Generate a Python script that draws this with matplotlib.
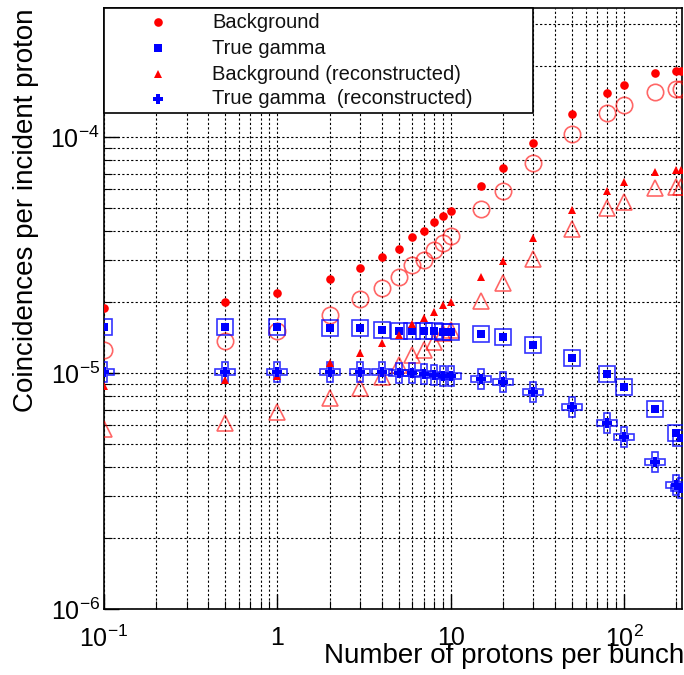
import matplotlib
matplotlib.use("Agg")
import matplotlib.pyplot as plt
from matplotlib.ticker import LogLocator, FixedLocator, FixedFormatter, NullFormatter
from matplotlib.patches import Rectangle
from matplotlib.lines import Line2D

plt.rcParams['font.family'] = ['Liberation Sans', 'DejaVu Sans']
plt.rcParams['mathtext.fontset'] = 'custom'
plt.rcParams['mathtext.rm'] = 'Liberation Sans'
plt.rcParams['mathtext.it'] = 'Liberation Sans'
plt.rcParams['mathtext.bf'] = 'Liberation Sans'

# ---------------- data ----------------
protons = [0.1, 0.5, 1, 2, 3, 4, 5, 6, 7, 8, 9, 10, 15, 20, 30, 50, 80, 100, 150, 200, 212]

background = [1.88e-5, 2.0e-5, 2.18e-5, 2.50e-5, 2.79e-5, 3.10e-5, 3.35e-5, 3.77e-5, 4.0e-5,
              4.36e-5, 4.63e-5, 4.86e-5, 6.2e-5, 7.39e-5, 9.43e-5, 1.25e-4, 1.54e-4, 1.66e-4,
              1.87e-4, 1.90e-4, 1.90e-4]
background_open = [1.25e-5, 1.37e-5, 1.51e-5, 1.76e-5, 2.06e-5, 2.29e-5, 2.55e-5, 2.87e-5, 3.01e-5,
                   3.32e-5, 3.56e-5, 3.80e-5, 4.95e-5, 5.9e-5, 7.76e-5, 1.03e-4, 1.26e-4, 1.37e-4,
                   1.55e-4, 1.60e-4, 1.60e-4]

true_gamma = [1.57e-5, 1.57e-5, 1.57e-5, 1.55e-5, 1.55e-5, 1.52e-5, 1.51e-5, 1.51e-5, 1.51e-5,
              1.51e-5, 1.49e-5, 1.49e-5, 1.46e-5, 1.42e-5, 1.31e-5, 1.16e-5, 9.9e-6, 8.73e-6,
              7.04e-6, 5.57e-6, 5.30e-6]
true_gamma_open = true_gamma

bkg_reco = [8.81e-6, 9.34e-6, 9.71e-6, 1.10e-5, 1.22e-5, 1.34e-5, 1.45e-5, 1.61e-5, 1.71e-5,
            1.81e-5, 1.94e-5, 2.0e-5, 2.55e-5, 2.98e-5, 3.73e-5, 4.91e-5, 5.9e-5, 6.45e-5,
            7.11e-5, 7.25e-5, 7.25e-5]
bkg_reco_open = [5.79e-6, 6.14e-6, 6.83e-6, 7.83e-6, 8.64e-6, 9.62e-6, 1.08e-5, 1.19e-5, 1.25e-5,
                 1.35e-5, 1.48e-5, 1.52e-5, 2.02e-5, 2.41e-5, 3.04e-5, 4.07e-5, 5.0e-5, 5.3e-5,
                 6.08e-5, 6.14e-5, 6.14e-5]

tg_reco = [1.01e-5, 1.01e-5, 1.01e-5, 1.01e-5, 1.01e-5, 1.01e-5, 1.0e-5, 1.0e-5, 9.9e-6,
           9.8e-6, 9.71e-6, 9.71e-6, 9.43e-6, 9.16e-6, 8.31e-6, 7.18e-6, 6.14e-6, 5.36e-6,
           4.20e-6, 3.35e-6, 3.26e-6]
tg_reco_open = tg_reco

legend_labels = ["Background", "True gamma", "Background (reconstructed)", "True gamma  (reconstructed)"]
xtick_vals = [0.1, 1, 10, 100]
xtick_labels = [r"$\mathregular{10^{-1}}$", "1", "10", r"$\mathregular{10^{2}}$"]
ytick_vals = [1e-6, 1e-5, 1e-4]
ytick_labels = [r"$\mathregular{10^{-6}}$", r"$\mathregular{10^{-5}}$", r"$\mathregular{10^{-4}}$"]

# ---------------- figure ----------------
W, H = 684, 675
fig = plt.figure(figsize=(W / 100, H / 100), dpi=100)
L, R, T, B = 104, 682, 8, 609
ax = fig.add_axes([L / W, 1 - B / H, (R - L) / W, (B - T) / H])
ax.set_xscale('log')
ax.set_yscale('log')
ax.set_xlim(0.1, 216)
ax.set_ylim(1e-6, 3.52e-4)

red = '#ff0000'
blue = '#0000ff'
red_open = (1.0, 0.0, 0.0, 0.6)
blue_open = (0.0, 0.0, 1.0, 0.8)
fs_small = 6.2
fs_big = 11.8

kw = dict(linestyle='none', clip_on=True)
# open markers (larger)
ax.plot(protons, background_open, marker='o', ms=fs_big, mfc='none', mec=red_open, mew=1.2, zorder=3, **kw)
ax.plot(protons, bkg_reco_open, marker='^', ms=fs_big, mfc='none', mec=red_open, mew=1.2, zorder=3, **kw)
ax.plot(protons, true_gamma_open, marker='s', ms=fs_big, mfc='none', mec=blue_open, mew=1.2, zorder=4, **kw)
ax.plot(protons, tg_reco_open, marker='P', ms=14, mfc='none', mec=blue_open, mew=1.2, zorder=4, **kw)
# filled markers
ax.plot(protons, background, marker='o', ms=fs_small, mfc=red, mec=red, mew=0, zorder=5, **kw)
ax.plot(protons, true_gamma, marker='s', ms=fs_small - 0.3, mfc=blue, mec=blue, mew=0, zorder=5, **kw)
ax.plot(protons, bkg_reco, marker='^', ms=fs_small, mfc=red, mec=red, mew=0, zorder=5, **kw)
ax.plot(protons, tg_reco, marker='P', ms=fs_small + 1.5, mfc=blue, mec=blue, mew=0, zorder=5, **kw)

# grid
ax.grid(True, which='both', color='black', linestyle=(0, (2, 2)), linewidth=0.8)
ax.set_axisbelow(True)

ax.xaxis.set_major_locator(FixedLocator(xtick_vals))
ax.xaxis.set_major_formatter(FixedFormatter(xtick_labels))
ax.xaxis.set_minor_locator(LogLocator(base=10, subs=range(2, 10), numticks=20))
ax.xaxis.set_minor_formatter(NullFormatter())
ax.yaxis.set_major_locator(FixedLocator(ytick_vals))
ax.yaxis.set_major_formatter(FixedFormatter(ytick_labels))
ax.yaxis.set_minor_locator(LogLocator(base=10, subs=range(2, 10), numticks=20))
ax.yaxis.set_minor_formatter(NullFormatter())

ax.tick_params(which='both', direction='in', top=False, right=False, colors='black')
ax.tick_params(which='major', length=11, width=1)
ax.tick_params(which='minor', length=6, width=0.8)
ax.tick_params(axis='x', labelsize=18, pad=12)
ax.tick_params(axis='y', labelsize=18, pad=3)
for sp in ax.spines.values():
    sp.set_linewidth(1.2)

# axis titles (ROOT-style, right-aligned)
fig.text(684 / W, 1 - 663 / H, "Number of protons per bunch", ha='right', va='baseline', fontsize=20)
fig.text(26 / W, 1 - 8 / H, "Coincidences per incident proton", ha='center', va='top', rotation=90, fontsize=20)

# legend box (manual, ROOT style)
lx0, lx1, ly0, ly1 = 104, 533, 8, 113
leg = Rectangle((lx0 / W, 1 - ly1 / H), (lx1 - lx0) / W, (ly1 - ly0) / H, transform=fig.transFigure,
                facecolor='white', edgecolor='black', linewidth=1.2, zorder=10)
fig.patches.append(leg)
rows = [22, 48, 74, 99]
styles = [dict(marker='o', color=red, ms=fs_small),
          dict(marker='s', color=blue, ms=fs_small - 0.3),
          dict(marker='^', color=red, ms=fs_small),
          dict(marker='P', color=blue, ms=fs_small + 1.5)]
for ry, st, lab in zip(rows, styles, legend_labels):
    fig.add_artist(Line2D([158 / W], [1 - ry / H], marker=st['marker'], color=st['color'], ms=st['ms'],
                          mew=0, linestyle='none', transform=fig.transFigure, zorder=11))
    fig.text(212 / W, 1 - ry / H, lab, ha='left', va='center', fontsize=14.5, color='#111111', zorder=11)

fig.savefig("out.png", dpi=100)
